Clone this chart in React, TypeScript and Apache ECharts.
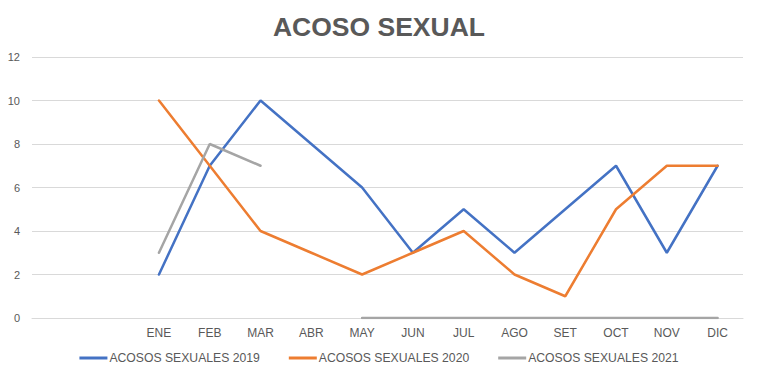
import React, { useEffect, useRef } from "react";
import * as echarts from "echarts";

const categories = ["", "", "ENE", "FEB", "MAR", "ABR", "MAY", "JUN", "JUL", "AGO", "SET", "OCT", "NOV", "DIC"];
const acosos2019 = [null, null, 2, 7, 10, 8, 6, 3, 5, 3, 5, 7, 3, 7];
const acosos2020 = [null, null, 10, 7, 4, 3, 2, 3, 4, 2, 1, 5, 7, 7];
const acosos2021 = [null, null, 3, 8, 7, null, 0, 0, 0, 0, 0, 0, 0, 0];
const seriesNames = ["ACOSOS SEXUALES 2019", "ACOSOS SEXUALES 2020", "ACOSOS SEXUALES 2021"];
const colors = ["#4472C4", "#ED7D31", "#A5A5A5"];

export default function App() {
  const ref = useRef<HTMLDivElement>(null);
  useEffect(() => {
    if (!ref.current) return;
    const chart = echarts.init(ref.current, undefined, { renderer: "svg" });
    const font = "'Liberation Sans', Arial, sans-serif";
    const datasets = [acosos2019, acosos2020, acosos2021];
    chart.setOption({
      animation: false,
      textStyle: { fontFamily: font },
      title: {
        text: "ACOSO SEXUAL",
        left: "center",
        top: 8,
        textStyle: { fontFamily: font, fontSize: 26.5, fontWeight: "bold", color: "#595959" },
      },
      color: colors,
      grid: { left: 32, right: 15, top: 57, bottom: 61, containLabel: false },
      xAxis: {
        type: "category",
        data: categories,
        boundaryGap: true,
        axisLine: { show: true, lineStyle: { color: "#D9D9D9" } },
        axisTick: { show: false },
        axisLabel: { color: "#595959", fontSize: 12, margin: 9, fontFamily: font, interval: 0 },
        splitLine: { show: false },
      },
      yAxis: {
        type: "value",
        min: 0,
        max: 12,
        interval: 2,
        axisLine: { show: false },
        axisTick: { show: false },
        axisLabel: { color: "#595959", fontSize: 11, margin: 12, fontFamily: font },
        splitLine: { show: true, lineStyle: { color: "#D9D9D9", width: 1 } },
      },
      legend: {
        bottom: 10,
        left: "center",
        itemWidth: 28,
        itemHeight: 3,
        itemGap: 29,
        icon: "rect",
        textStyle: { color: "#595959", fontSize: 12.2, fontFamily: font, padding: [0, 0, 0, -3] },
        data: seriesNames,
      },
      series: datasets.map((d, i) => ({
        name: seriesNames[i],
        type: "line",
        data: d,
        showSymbol: false,
        symbol: "none",
        connectNulls: false,
        lineStyle: { width: 2.5, color: colors[i], cap: "round" },
        itemStyle: { color: colors[i] },
      })),
    });
    return () => chart.dispose();
  }, []);
  return <div ref={ref} style={{ position: "fixed", left: 0, top: 0, width: 758, height: 379, background: "#fff" }} />;
}
